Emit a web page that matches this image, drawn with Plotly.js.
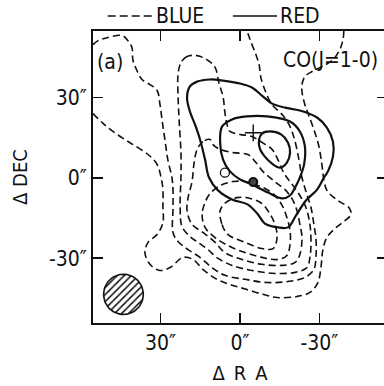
<!DOCTYPE html>
<html>
<head>
<meta charset="utf-8">
<script src="https://cdn.plot.ly/plotly-3.0.1.min.js"></script>
<style>
html,body{margin:0;padding:0;overflow:hidden;background:#fff;}
#chart{width:390px;height:386px;}
</style>
</head>
<body>
<div id="chart"></div>
<script>
// ---- Data (arcsec offsets, ΔRA increases to the left) ----
const tickVals = [30, 0, -30];
const tickText = ["30\u2033", "0\u2033", "-30\u2033"];

// BLUE (dashed) contours
const blue1X = [55.5,51.7,46.4,40.4,34.7,31.3,29.8,29.1,29.1,29.1,31.3,34.7,35.9,34.0,30.2,26.4,21.5,17.7,14.0,8.7,3.8,-2.6,-8.7,-14.0,-21.5,-26.4,-29.4,-30.6,-31.3,-32.8,-35.9,-39.2,-41.9,-41.1,-38.1,-35.5,-32.8,-31.7,-30.9,-29.8,-27.9,-26.0,-24.5,-23.4,-23.4,-24.5,-27.2,-30.9,-35.1,-37.7,-38.9,-39.2];
const blue1Y = [24.0,20.3,16.2,12.4,8.7,5.0,0.1,-4.4,-10.7,-16.7,-21.2,-24.1,-27.9,-32.3,-34.6,-33.5,-29.7,-30.5,-34.2,-37.9,-39.8,-41.7,-43.5,-44.7,-44.3,-42.8,-39.1,-33.1,-26.8,-22.3,-18.9,-16.3,-13.7,-11.1,-9.2,-7.4,-4.7,-1.0,5.0,11.7,18.0,23.2,27.3,32.2,34.8,37.8,39.7,41.5,44.1,47.9,51.6,55.0];

const blue2X = [55.5,53.6,50.2,44.5,42.3,40.8,40.4,38.9,37.0,34.0,31.3,30.2,29.4,28.3,27.2,25.7,25.3,25.3,25.3,23.4,19.6,15.1,10.6,5.7,-1.9,-10.2,-18.1,-24.5,-27.9,-28.7,-28.7,-27.9,-26.8,-24.9,-23.4,-22.3,-20.4,-18.5,-15.9,-12.1,-9.8,-7.9,-7.2,-6.0,-3.8,-2.6];
const blue2Y = [49.7,51.2,52.3,53.1,51.2,48.6,43.8,40.0,36.7,34.8,32.6,27.3,21.4,13.9,6.5,0.1,-4.4,-11.8,-20.4,-23.8,-26.8,-29.7,-33.5,-36.4,-37.9,-39.1,-38.7,-37.2,-34.2,-29.0,-23.0,-17.4,-11.1,-5.1,0.1,6.5,15.0,19.9,23.6,27.3,31.8,37.4,42.3,46.0,51.6,55.0];

const blue3X = [16.2,20.0,22.3,23.4,23.4,23.0,22.3,22.3,22.6,21.9,18.9,15.9,12.1,8.3,3.0,-4.5,-13.2,-20.8,-25.3,-26.4,-26.8,-26.4,-24.9,-22.6,-20.0,-17.7,-15.9,-14.3,-12.1,-8.3,-4.5,0.0,3.8,4.9,5.7,6.4,7.9,9.4,12.5,16.2];
const blue3Y = [45.6,45.3,43.0,38.5,31.1,21.8,9.4,0.1,-10.7,-18.2,-21.9,-24.1,-26.8,-30.1,-32.7,-34.6,-35.7,-35.3,-33.5,-29.7,-24.9,-17.4,-11.1,-6.6,-2.9,0.1,3.1,6.8,10.6,13.2,15.4,16.2,17.3,19.9,24.4,30.3,35.2,41.2,44.1,45.6];

const blue4X = [11.3,14.0,16.2,17.4,18.1,19.6,20.0,18.1,14.0,9.4,5.7,-0.8,-8.3,-15.9,-20.8,-22.6,-23.4,-22.6,-21.5,-19.6,-17.0,-14.0,-11.3,-8.7,-5.7,-3.0,2.6,7.5,10.2,11.3];
const blue4Y = [14.3,13.5,10.6,5.0,-1.4,-7.4,-12.2,-17.4,-20.4,-24.1,-27.9,-30.5,-32.3,-32.7,-31.6,-28.6,-22.3,-17.4,-12.2,-7.7,-4.4,-2.1,0.1,2.3,6.1,8.7,9.4,10.6,12.4,14.3];

const blue5X = [13.2,14.3,13.2,9.4,4.5,-1.9,-8.3,-14.3,-17.7,-18.9,-18.9,-17.7,-15.9,-12.8,-9.4,-5.7,-1.9,2.6,7.5,11.3,13.2];
const blue5Y = [-9.2,-13.7,-18.5,-22.3,-25.3,-27.9,-29.7,-30.5,-29.0,-24.9,-19.7,-14.8,-10.3,-6.2,-4.0,-2.5,-1.4,-1.4,-2.9,-5.9,-9.2];

const blue6X = [7.5,6.8,4.5,-1.9,-8.3,-12.5,-14.0,-13.2,-11.3,-8.3,-3.8,1.1,5.3,7.5];
const blue6Y = [-12.2,-17.4,-21.2,-24.1,-26.4,-26.4,-22.3,-17.4,-13.5,-9.6,-7.7,-7.4,-9.2,-12.2];

// RED (solid) contours
const red1X = [18.9,20.0,18.9,16.2,11.3,6.4,0.0,-4.5,-8.3,-12.1,-17.0,-22.6,-29.1,-32.8,-35.1,-35.1,-33.2,-31.7,-29.1,-24.9,-21.1,-18.1,-14.3,-9.4,-6.8,-3.0,3.0,8.3,11.7,13.2,15.1,17.0,18.9];
const red1Y = [24.7,30.0,34.1,35.9,36.7,36.3,35.2,33.7,30.7,27.7,26.2,25.1,22.5,18.7,13.5,7.9,2.4,0.1,-4.4,-8.5,-14.1,-18.5,-18.5,-17.1,-13.7,-10.0,-8.1,-4.7,0.1,6.8,14.3,19.9,24.7];

const red2X = [6.8,3.0,-2.6,-10.2,-18.9,-22.6,-24.5,-24.2,-22.6,-20.8,-18.9,-15.9,-10.6,-4.5,0.0,3.8,6.4,7.5,6.8];
const red2Y = [19.1,21.8,22.9,22.9,21.0,17.3,11.7,5.0,0.1,-3.6,-6.6,-7.7,-5.5,-2.5,-0.6,2.4,6.8,13.2,19.1];

const red3X = [-7.2,-8.3,-11.3,-15.5,-18.1,-18.9,-17.7,-15.1,-12.1,-9.4,-7.5,-7.2];
const red3Y = [14.3,16.5,17.3,16.2,13.2,9.4,5.7,3.8,5.3,7.9,10.9,14.3];

// Positions marked in the field
const plusX = [-5.0], plusY = [16.8];
const openX = [5.7], openY = [1.9];
const dotX = [-5.0], dotY = [-1.6];

// Beam
const beamCenter = [44.0, -43.5];
const beamRadius = 7.5;

// ---- Build traces ----
const dashStyle = "7px,4px";
function blue(x, y) {
  return {x: x, y: y, type: "scatter", mode: "lines", hoverinfo: "skip", showlegend: false,
          line: {color: "#111", width: 1.6, dash: dashStyle, shape: "spline", smoothing: 1}};
}
function red(x, y) {
  return {x: x, y: y, type: "scatter", mode: "lines", hoverinfo: "skip", showlegend: false,
          line: {color: "#111", width: 2.2, shape: "spline", smoothing: 1}};
}
const beamX = [], beamY = [];
for (let i = 0; i <= 72; i++) {
  const a = i / 72 * 2 * Math.PI;
  beamX.push(beamCenter[0] + beamRadius * Math.cos(a));
  beamY.push(beamCenter[1] + beamRadius * Math.sin(a));
}
const traces = [
  blue(blue1X, blue1Y), blue(blue2X, blue2Y), blue(blue3X, blue3Y),
  blue(blue4X, blue4Y), blue(blue5X, blue5Y), blue(blue6X, blue6Y),
  red(red1X, red1Y), red(red2X, red2Y), red(red3X, red3Y),
  {x: beamX, y: beamY, type: "scatter", mode: "lines", fill: "toself", showlegend: false, hoverinfo: "skip",
   fillcolor: "white",
   fillpattern: {shape: "/", fgcolor: "#111", bgcolor: "white", size: 5, solidity: 0.3},
   line: {color: "#111", width: 1.6}},
  {x: plusX, y: plusY, type: "scatter", mode: "markers", showlegend: false,
   marker: {symbol: "cross-thin", size: 12, line: {color: "#111", width: 1.4}}},
  {x: openX, y: openY, type: "scatter", mode: "markers", showlegend: false,
   marker: {symbol: "circle-open", size: 9, color: "#111", line: {color: "#111", width: 1.3}}},
  {x: dotX, y: dotY, type: "scatter", mode: "markers", showlegend: false,
   marker: {symbol: "circle", size: 8, color: "#444", line: {color: "#111", width: 2}}}
];

const fontFam = "Liberation Sans Narrow, DejaVu Sans Condensed, Liberation Sans, sans-serif";
const axisCommon = {
  tickvals: tickVals, ticktext: tickText,
  ticks: "inside", ticklen: 10, tickwidth: 1.5, tickcolor: "#111",
  showline: true, linewidth: 2, linecolor: "#111", mirror: "ticks",
  showgrid: false, zeroline: false, fixedrange: true,
  tickfont: {family: fontFam, size: 21, color: "#111"}
};
const layout = {
  width: 390, height: 386,
  margin: {l: 93, r: 3, t: 31, b: 63},
  paper_bgcolor: "white", plot_bgcolor: "white",
  font: {family: fontFam, color: "#111"},
  xaxis: Object.assign({}, axisCommon, {range: [55.5, -55.5],
    title: {text: "\u0394\u2002R\u2002A", font: {family: fontFam, size: 20, color: "#111"}, standoff: 12}}),
  yaxis: Object.assign({}, axisCommon, {range: [-54.2, 54.8],
    title: {text: "\u0394 DEC", font: {family: fontFam, size: 20, color: "#111"}, standoff: 16}}),
  shapes: [
    {type: "line", xref: "paper", yref: "paper", x0: 0.05, x1: 0.205, y0: 1.051, y1: 1.051,
     line: {color: "#111", width: 1.5, dash: "8px,4px"}},
    {type: "line", xref: "paper", yref: "paper", x0: 0.476, x1: 0.626, y0: 1.051, y1: 1.051,
     line: {color: "#111", width: 1.5}}
  ],
  annotations: [
    {xref: "paper", yref: "paper", x: 0.208, y: 1.051, xanchor: "left", yanchor: "middle",
     text: "BLUE", showarrow: false, font: {family: fontFam, size: 21, color: "#111"}},
    {xref: "paper", yref: "paper", x: 0.63, y: 1.051, xanchor: "left", yanchor: "middle",
     text: "RED", showarrow: false, font: {family: fontFam, size: 21, color: "#111"}},
    {xref: "paper", yref: "paper", x: 0.008, y: 0.893, xanchor: "left", yanchor: "middle",
     text: "(a)", showarrow: false, font: {family: fontFam, size: 21, color: "#111"}},
    {xref: "paper", yref: "paper", x: 0.64, y: 0.9, xanchor: "left", yanchor: "middle",
     text: "CO(J=1-0)", showarrow: false, font: {family: fontFam, size: 21, color: "#111"}}
  ]
};
Plotly.newPlot("chart", traces, layout, {staticPlot: true, displayModeBar: false});
</script>
</body>
</html>
